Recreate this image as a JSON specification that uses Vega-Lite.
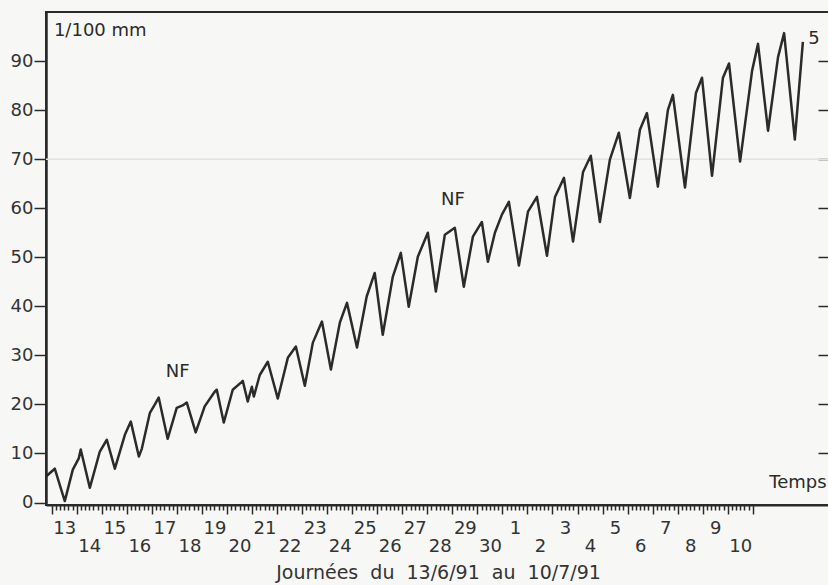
{
  "$schema": "https://vega.github.io/schema/vega-lite/v6.json",
  "width": 784,
  "height": 493,
  "autosize": "none",
  "padding": {"left": 46, "top": 12, "right": 0, "bottom": 80},
  "background": "#f7f7f5",
  "config": {
    "view": {"stroke": "#2a2a2a", "strokeWidth": 2},
    "font": "DejaVu Sans"
  },
  "datasets": {
    "courbe": [
      {"h": -5.5, "v": 5.3}, {"h": 2.9, "v": 6.9}, {"h": 12.5, "v": 0.3}, {"h": 20.2, "v": 6.7}, {"h": 25.9, "v": 9.0},
      {"h": 27.8, "v": 10.8}, {"h": 36.5, "v": 3.0}, {"h": 46.1, "v": 10.4}, {"h": 52.8, "v": 12.8}, {"h": 60.5, "v": 6.9},
      {"h": 70.1, "v": 13.8}, {"h": 75.8, "v": 16.5}, {"h": 83.5, "v": 9.4}, {"h": 86.4, "v": 11.0}, {"h": 94.1, "v": 18.3},
      {"h": 98.9, "v": 20.0}, {"h": 102.5, "v": 21.4}, {"h": 111.1, "v": 13.0}, {"h": 119.8, "v": 19.3}, {"h": 125.5, "v": 19.8},
      {"h": 129.4, "v": 20.4}, {"h": 138, "v": 14.3}, {"h": 146.6, "v": 19.6}, {"h": 156.2, "v": 22.6}, {"h": 158.2, "v": 23.0},
      {"h": 164.9, "v": 16.3}, {"h": 173.5, "v": 23.0}, {"h": 182.2, "v": 24.6}, {"h": 183.1, "v": 24.8}, {"h": 187.9, "v": 20.6},
      {"h": 191.8, "v": 23.6}, {"h": 193.7, "v": 21.6}, {"h": 199.4, "v": 26.0}, {"h": 207.1, "v": 28.7}, {"h": 216.7, "v": 21.2},
      {"h": 226.3, "v": 29.5}, {"h": 234, "v": 31.8}, {"h": 242.6, "v": 23.8}, {"h": 250.3, "v": 32.6}, {"h": 259, "v": 36.9},
      {"h": 267.6, "v": 27.1}, {"h": 276.2, "v": 36.7}, {"h": 283, "v": 40.7}, {"h": 292.6, "v": 31.6}, {"h": 301.9, "v": 42.0},
      {"h": 309.6, "v": 46.8}, {"h": 317.3, "v": 34.2}, {"h": 326.9, "v": 46.0}, {"h": 334.6, "v": 50.9}, {"h": 342.2, "v": 39.9},
      {"h": 350.9, "v": 50.1}, {"h": 360.5, "v": 55.0}, {"h": 368.2, "v": 43.0}, {"h": 376.8, "v": 54.6}, {"h": 386.4, "v": 56.0},
      {"h": 395, "v": 44.0}, {"h": 403.7, "v": 54.2}, {"h": 412.3, "v": 57.2}, {"h": 418.1, "v": 49.1}, {"h": 424.8, "v": 55.0},
      {"h": 431.5, "v": 58.7}, {"h": 438.2, "v": 61.3}, {"h": 447.8, "v": 48.3}, {"h": 456.5, "v": 59.3}, {"h": 465.1, "v": 62.3},
      {"h": 474.7, "v": 50.3}, {"h": 482.4, "v": 62.3}, {"h": 491, "v": 66.2}, {"h": 499.7, "v": 53.2}, {"h": 509.3, "v": 67.4},
      {"h": 516.7, "v": 70.7}, {"h": 525.4, "v": 57.2}, {"h": 535, "v": 69.9}, {"h": 543.6, "v": 75.4}, {"h": 554.2, "v": 62.1},
      {"h": 563.8, "v": 76.0}, {"h": 570.5, "v": 79.4}, {"h": 581, "v": 64.4}, {"h": 590.6, "v": 80.0}, {"h": 595.4, "v": 83.1},
      {"h": 607, "v": 64.2}, {"h": 617.5, "v": 83.5}, {"h": 623.3, "v": 86.6}, {"h": 632.9, "v": 66.6}, {"h": 643.4, "v": 86.6},
      {"h": 649.2, "v": 89.5}, {"h": 659.8, "v": 69.5}, {"h": 671.3, "v": 88.0}, {"h": 677, "v": 93.5}, {"h": 686.6, "v": 75.8},
      {"h": 696.2, "v": 90.8}, {"h": 702, "v": 95.7}, {"h": 712.3, "v": 74.0}, {"h": 720, "v": 93.9}
    ],
    "notes": [
      {"h": 46.5, "v": 96.2, "t": "1/100 mm"},
      {"h": 120.8, "v": 26.7, "t": "NF"},
      {"h": 384.5, "v": 61.6, "t": "NF"},
      {"h": 730.6, "v": 94.4, "t": "5"},
      {"h": 715.3, "v": 3.9, "t": "Temps"}
    ],
    "trace": [{"v": 70}]
  },
  "resolve": {"axis": {"x": "independent", "y": "independent"}},
  "layer": [
    {
      "data": {"name": "trace"},
      "mark": {"type": "rule", "color": "#e2e2e0", "strokeWidth": 1.5},
      "encoding": {
        "y": {"field": "v", "type": "quantitative", "scale": {"domain": [-0.5, 100], "nice": false, "zero": false}, "axis": null}
      }
    },
    {
      "data": {"name": "courbe"},
      "mark": {"type": "line", "color": "#2b2b2b", "strokeWidth": 2.5, "strokeJoin": "round"},
      "encoding": {
        "x": {
          "field": "h", "type": "quantitative",
          "scale": {"domain": [-5.5, 746], "nice": false, "zero": false},
          "axis": {
            "values": [0,4,8,12,16,20,24,28,32,36,40,44,48,52,56,60,64,68,72,76,80,84,88,92,96,100,104,108,112,116,120,124,128,132,136,140,144,148,152,156,160,164,168,172,176,180,184,188,192,196,200,204,208,212,216,220,224,228,232,236,240,244,248,252,256,260,264,268,272,276,280,284,288,292,296,300,304,308,312,316,320,324,328,332,336,340,344,348,352,356,360,364,368,372,376,380,384,388,392,396,400,404,408,412,416,420,424,428,432,436,440,444,448,452,456,460,464,468,472,476,480,484,488,492,496,500,504,508,512,516,520,524,528,532,536,540,544,548,552,556,560,564,568,572,576,580,584,588,592,596,600,604,608,612,616,620,624,628,632,636,640,644,648,652,656,660,664,668,672],
            "tickSize": {"condition": {"test": "datum.value % 24 === 0", "value": 9}, "value": 5},
            "tickWidth": 1.5,
            "tickColor": "#2a2a2a",
            "domainColor": "#2a2a2a",
            "domainWidth": 2,
            "grid": false,
            "labelExpr": "datum.value % 24 === 12 ? '' + (floor(datum.value / 24) < 18 ? floor(datum.value / 24) + 13 : floor(datum.value / 24) - 17) : ''",
            "labelPadding": {"condition": {"test": "floor(datum.value / 24) % 2 === 0", "value": 9}, "value": 27},
            "labelFont": "DejaVu Sans",
            "labelFontSize": 18,
            "labelColor": "#333333",
            "labelOverlap": false,
            "labelFlush": false,
            "labelBound": false,
            "title": "Journées\u00a0\u00a0du\u00a0\u00a013/6/91\u00a0\u00a0au\u00a0\u00a010/7/91",
            "titleFont": "DejaVu Sans",
            "titleFontSize": 19,
            "titleFontWeight": "normal",
            "titleColor": "#333333",
            "titlePadding": 4
          }
        },
        "y": {
          "field": "v", "type": "quantitative",
          "scale": {"domain": [-0.5, 100], "nice": false, "zero": false},
          "axis": {
            "orient": "left",
            "values": [0, 10, 20, 30, 40, 50, 60, 70, 80, 90],
            "tickSize": 12,
            "tickWidth": 1.5,
            "tickColor": "#2a2a2a",
            "domainColor": "#2a2a2a",
            "domainWidth": 2.5,
            "grid": false,
            "labelFont": "DejaVu Sans",
            "labelFontSize": 18,
            "labelColor": "#333333",
            "labelPadding": 1,
            "labelFlush": false,
            "title": null
          }
        }
      }
    },
    {
      "data": {"name": "notes"},
      "mark": {"type": "text", "font": "DejaVu Sans", "fontSize": 18, "color": "#2b2b2b", "align": "center", "baseline": "middle"},
      "encoding": {
        "x": {"field": "h", "type": "quantitative", "axis": null},
        "y": {
          "field": "v", "type": "quantitative",
          "axis": {
            "orient": "right",
            "values": [10, 20, 30, 40, 50, 60, 70, 80, 90],
            "labels": false,
            "domain": false,
            "grid": false,
            "tickSize": -12,
            "tickWidth": 1.5,
            "tickColor": "#2a2a2a",
            "title": null
          }
        },
        "text": {"field": "t", "type": "nominal"}
      }
    }
  ]
}
